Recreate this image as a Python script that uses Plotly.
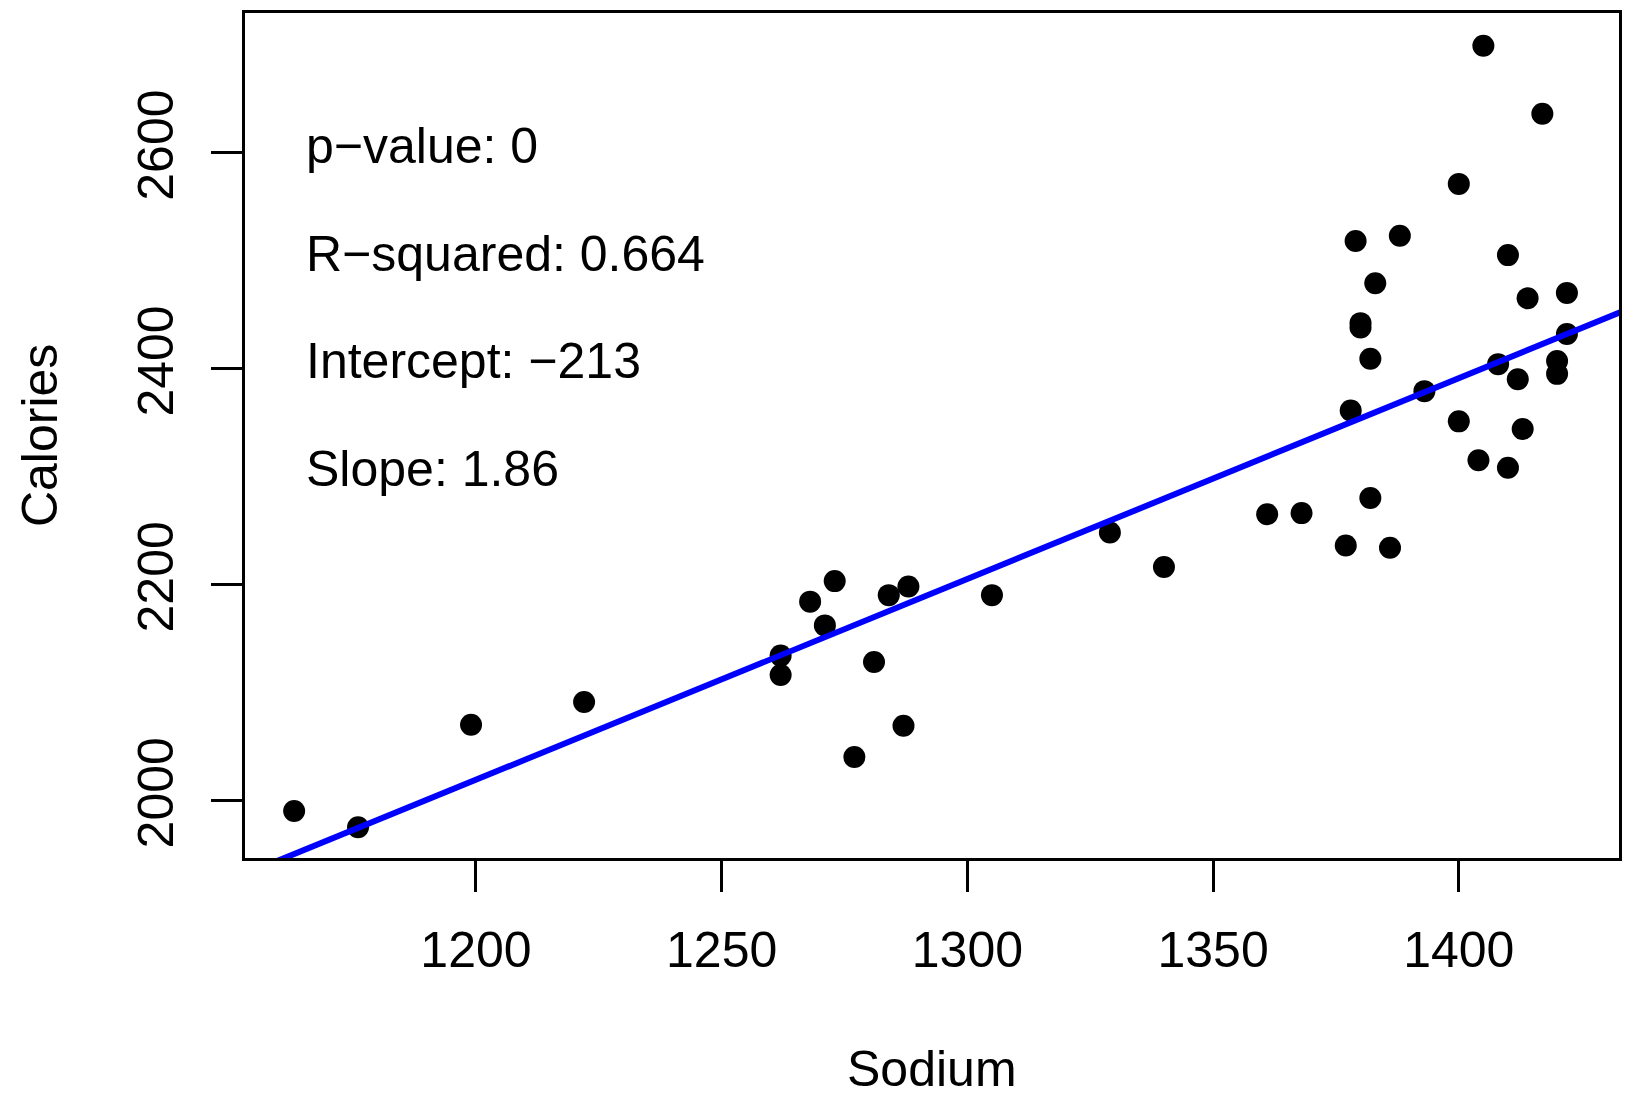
import plotly.graph_objects as go

# sodium vs calories
sodium = [1163, 1176, 1199, 1222, 1262, 1262, 1268, 1271, 1273, 1277,
          1281, 1284, 1287, 1288, 1305, 1329, 1340, 1361, 1368, 1377,
          1378, 1379, 1380, 1380, 1382, 1382, 1383, 1386, 1388, 1393,
          1400, 1400, 1404, 1405, 1408, 1410, 1410, 1412, 1413, 1414,
          1417, 1420, 1420, 1422, 1422]
calories = [1990, 1975, 2070, 2091, 2134, 2116, 2184, 2162, 2203, 2040,
            2128, 2190, 2069, 2198, 2190, 2248, 2216, 2265, 2266, 2236,
            2361, 2518, 2442, 2438, 2409, 2280, 2479, 2234, 2523, 2379,
            2571, 2351, 2315, 2699, 2404, 2505, 2308, 2390, 2344, 2465,
            2636, 2407, 2395, 2470, 2432]

intercept = -213
slope = 1.86
stats = ["p\u2212value: 0", "R\u2212squared: 0.664", "Intercept: \u2212213", "Slope: 1.86"]
stat_y = [2600, 2500, 2400, 2300]

x_ticks = [1200, 1250, 1300, 1350, 1400]
y_ticks = [2000, 2200, 2400, 2600]

FONT = "Liberation Sans, Arial, sans-serif"

fig = go.Figure()

fig.add_trace(go.Scatter(x=sodium, y=calories, mode="markers",
                         marker=dict(color="black", size=22, line=dict(width=0)),
                         showlegend=False))

# regression line across the whole plotting region
line_x = [1140, 1445]
line_y = [intercept + slope * v for v in line_x]
fig.add_trace(go.Scatter(x=line_x, y=line_y, mode="lines",
                         line=dict(color="#0000FF", width=6), showlegend=False))

for txt, yv in zip(stats, stat_y):
    fig.add_annotation(x=1165, y=yv, xref="x", yref="y", text=txt, showarrow=False,
                       xanchor="left", yanchor="middle", yshift=7,
                       font=dict(family=FONT, size=50, color="black"))

fig.add_annotation(x=0.5, y=-0.2495, xref="paper", yref="paper", text="Sodium",
                   showarrow=False, xanchor="center", yanchor="middle",
                   font=dict(family=FONT, size=50, color="black"))
fig.add_annotation(x=-0.1495, y=0.5, xref="paper", yref="paper", text="Calories",
                   showarrow=False, xanchor="center", yanchor="middle", textangle=-90,
                   borderpad=0, font=dict(family=FONT, size=50, color="black"))

fig.update_xaxes(range=[1153, 1432.6], tickvals=x_ticks, ticks="outside", ticklen=31,
                 tickwidth=3, tickcolor="black", showline=True, linewidth=3,
                 linecolor="black", mirror=True, showgrid=False, zeroline=False,
                 ticklabelstandoff=15,
                 tickfont=dict(family=FONT, size=50, color="black"))
fig.update_yaxes(range=[1946.5, 2729.3], tickvals=y_ticks, ticks="outside", ticklen=31,
                 tickwidth=3, tickcolor="black", showline=True, linewidth=3,
                 linecolor="black", mirror=True, showgrid=False, zeroline=False,
                 tickangle=-90, ticklabelstandoff=18,
                 tickfont=dict(family=FONT, size=50, color="black"))

# page body adds an 8px offset, so the figure is sized to sit inside the window
fig.update_layout(width=1626, height=1096,
                  margin=dict(l=236.5, r=14.5, t=1.5, b=245.5),
                  plot_bgcolor="white", paper_bgcolor="white")

fig.write_html("out.html")
